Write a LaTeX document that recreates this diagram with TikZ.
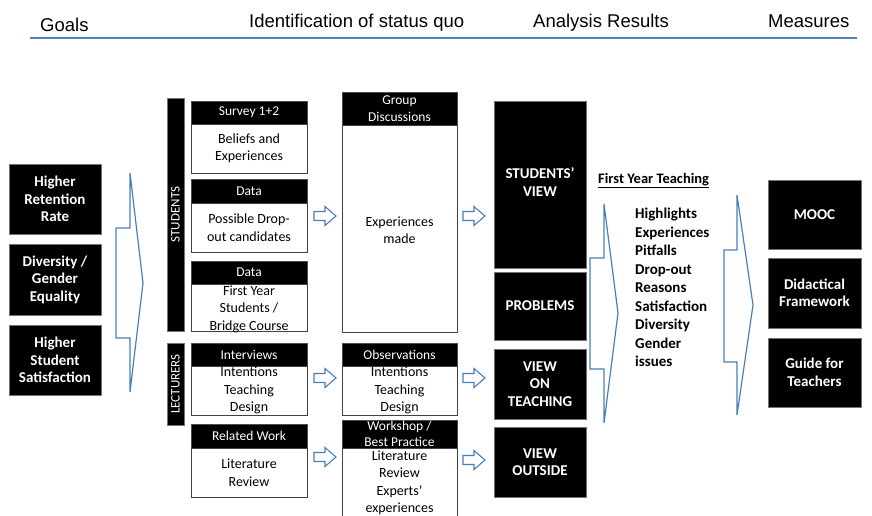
\documentclass[tikz,border=0pt]{standalone}
\usepackage{fontspec}
\setmainfont{Carlito}
\newfontfamily\arialf{Liberation Sans}
\definecolor{ablue}{RGB}{74,126,187}
\definecolor{lblue}{RGB}{79,129,189}
\newcommand\myblockarrow[2]{%
  \draw[barw] (#1,#2-4.5) -- (#1+11,#2-4.5) -- (#1+11,#2-9.5) -- (#1+22,#2)
    -- (#1+11,#2+9.5) -- (#1+11,#2+4.5) -- (#1,#2+4.5) -- cycle;}
\begin{document}
\begin{tikzpicture}[x=1pt,y=-1pt,
  blk/.style={fill=black, draw=black!55, line width=0.6pt, inner sep=0pt, outer sep=0pt, anchor=north west},
  hdr/.style={fill=black, draw=black!70, line width=0.8pt, inner sep=0pt, outer sep=0pt, anchor=north west},
  bodybox/.style={fill=white, draw=black!75, line width=1pt, inner sep=0pt, outer sep=0pt, anchor=north west},
  btxt/.style={text=white, font=\fontsize{15}{17.5}\selectfont\bfseries, align=center, inner sep=0pt},
  htxt/.style={text=white, font=\fontsize{13.5}{16.5}\selectfont, align=center, inner sep=0pt},
  ttxt/.style={text=black, font=\fontsize{14}{17.5}\selectfont, align=center, inner sep=0pt},
  chev/.style={draw=ablue, line width=1.2pt, line join=miter},
  barw/.style={draw=ablue, line width=1.1pt, fill=white, line join=miter},
  ttl/.style={font=\arialf\fontsize{18.5}{20}\selectfont, anchor=base west, inner sep=0pt}
]
\useasboundingbox (0,0) rectangle (872,515);

% titles
\node[ttl] (tg) at (40,31) {Goals};
\node[ttl] (ti) at (249,27) {Identification of status quo};
\node[ttl] (ta) at (533,27) {Analysis Results};
\node[ttl] (tm) at (768,27) {Measures};
\draw[lblue, line width=1.5pt] (30,38) -- (857,38);

% goals
\node[blk, minimum width=92pt, minimum height=70pt] (g1) at (9,164) {};
\node[btxt] at (g1) {Higher\\Retention\\Rate};
\node[blk, minimum width=92pt, minimum height=71pt] (g2) at (9,244) {};
\node[btxt] at (g2) {Diversity /\\Gender\\Equality};
\node[blk, minimum width=92pt, minimum height=70pt] (g3) at (9,325) {};
\node[btxt] at (g3) {Higher\\Student\\Satisfaction};

% chevron 1
\draw[chev] (130,173) -- (143,283) -- (130,392) -- (130,338) -- (116,338) -- (116,228) -- (130,228) -- cycle;

% group bars
\node[blk, minimum width=17pt, minimum height=233pt] (stu) at (167,98) {};
\node[htxt, rotate=90, font=\fontsize{13}{15}\selectfont] at (stu) {STUDENTS};
\node[blk, minimum width=17pt, minimum height=82pt] (lec) at (167,343) {};
\node[htxt, rotate=90, font=\fontsize{13}{15}\selectfont] at (lec) {LECTURERS};

% column 1
\node[hdr, minimum width=116pt, minimum height=23pt] (s1h) at (191,101) {};
\node[htxt] at (s1h) {Survey 1+2};
\node[bodybox, minimum width=116pt, minimum height=49pt] (s1b) at (191,124) {};
\node[ttxt] at (s1b) {Beliefs and\\Experiences};

\node[hdr, minimum width=116pt, minimum height=24pt] (s2h) at (191,179) {};
\node[htxt] at (s2h) {Data};
\node[bodybox, minimum width=116pt, minimum height=49pt] (s2b) at (191,203) {};
\node[ttxt] at (s2b) {Possible Drop-\\out candidates};

\node[hdr, minimum width=116pt, minimum height=23pt] (s3h) at (191,261) {};
\node[htxt] at (s3h) {Data};
\node[bodybox, minimum width=116pt, minimum height=47pt] (s3b) at (191,284) {};
\node[ttxt] at ([yshift=-1.5pt]s3b.center) {First Year\\Students /\\Bridge Course};

\node[hdr, minimum width=116pt, minimum height=23pt] (l1h) at (191,343) {};
\node[htxt] at (l1h) {Interviews};
\node[bodybox, minimum width=116pt, minimum height=49pt] (l1b) at (191,366) {};
\node[ttxt] at (l1b) {Intentions\\Teaching\\Design};

\node[hdr, minimum width=116pt, minimum height=24pt] (l2h) at (191,424) {};
\node[htxt] at (l2h) {Related Work};
\node[bodybox, minimum width=116pt, minimum height=49pt] (l2b) at (191,448) {};
\node[ttxt] at (l2b) {Literature\\Review};

% column 2
\node[hdr, minimum width=115pt, minimum height=33pt] (gdh) at (342,92) {};
\node[htxt] at (gdh) {Group\\Discussions};
\node[bodybox, minimum width=115pt, minimum height=207pt] (gdb) at (342,125) {};
\node[ttxt] at ([yshift=-1.5pt]gdb.center) {Experiences\\made};

\node[hdr, minimum width=115pt, minimum height=23pt] (obh) at (342,343) {};
\node[htxt] at (obh) {Observations};
\node[bodybox, minimum width=115pt, minimum height=49pt] (obb) at (342,366) {};
\node[ttxt] at (obb) {Intentions\\Teaching\\Design};

\node[hdr, minimum width=115pt, minimum height=28pt] (wsh) at (342,420) {};
\node[htxt] at (wsh) {Workshop /\\Best Practice};
\node[bodybox, minimum width=115pt, minimum height=70pt] (wsb) at (342,448) {};
\node[ttxt] at (wsb) {Literature\\Review\\Experts'\\experiences};

% small block arrows
\myblockarrow{314}{216}
\myblockarrow{314}{378}
\myblockarrow{314}{457}
\myblockarrow{463}{216}
\myblockarrow{463}{378}
\myblockarrow{463}{460}

% results
\node[blk, minimum width=92pt, minimum height=167pt] (r1) at (494,101) {};
\node[btxt] at ([yshift=2.5pt]r1.center) {STUDENTS'\\VIEW};
\node[blk, minimum width=92pt, minimum height=68pt] (r2) at (494,272) {};
\node[btxt] at (r2) {PROBLEMS};
\node[blk, minimum width=92pt, minimum height=70pt] (r3) at (494,349) {};
\node[btxt] at (r3) {VIEW\\ON\\TEACHING};
\node[blk, minimum width=92pt, minimum height=70pt] (r4) at (494,427) {};
\node[btxt] at (r4) {VIEW\\OUTSIDE};

% first year teaching
\node[anchor=base west, inner sep=0pt, font=\fontsize{14.5}{17}\selectfont\bfseries] (fyt) at (598,183) {\underline{First Year Teaching}};
\draw[chev] (604,204) -- (618,313) -- (604,423) -- (604,369) -- (590,369) -- (590,258) -- (604,258) -- cycle;
\node[anchor=north west, inner sep=0pt, align=left, font=\fontsize{15}{18.5}\selectfont\bfseries] (lst) at (635,208) {Highlights\\Experiences\\Pitfalls\\Drop-out\\Reasons\\Satisfaction\\Diversity\\Gender\\issues};
\draw[chev] (737,195) -- (753,305) -- (737,415) -- (737,362) -- (724,362) -- (724,250) -- (737,250) -- cycle;

% measures
\node[blk, minimum width=93pt, minimum height=69pt] (m1) at (768,180) {};
\node[btxt] at (m1) {MOOC};
\node[blk, minimum width=93pt, minimum height=70pt] (m2) at (768,258) {};
\node[btxt] at (m2) {Didactical\\Framework};
\node[blk, minimum width=93pt, minimum height=69pt] (m3) at (768,338) {};
\node[btxt] at (m3) {Guide for\\Teachers};
\end{tikzpicture}
\end{document}
